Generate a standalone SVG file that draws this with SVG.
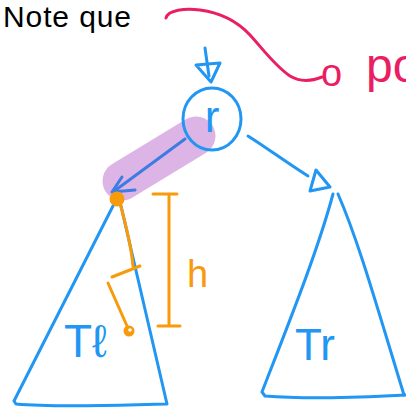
<svg xmlns="http://www.w3.org/2000/svg" width="406" height="408" viewBox="0 0 406 408">
<style>
.b{fill:none;stroke:#2196f3;stroke-width:3;stroke-linecap:round;stroke-linejoin:round}
.o{fill:none;stroke:#f79a0b;stroke-width:3;stroke-linecap:round;stroke-linejoin:round}
.p{fill:none;stroke:#e91e63;stroke-width:3;stroke-linecap:round;stroke-linejoin:round}
.lb{font-family:"Liberation Sans","DejaVu Sans",sans-serif;fill:#2196f3}
</style>
<rect width="406" height="408" fill="#ffffff"/>
<text x="3" y="27" font-family="Liberation Sans, Arial, sans-serif" font-size="30" fill="#000" textLength="128">Note que</text>
<g id="pink-note">
<path class="p" d="M166,18 C168,10 185,8 200,10 C222,13 238,22 250,35 C262,48 275,66 290,76 C300,82 312,81 322,77"/>
<text font-family="Liberation Sans, sans-serif" fill="#e91e63" x="321" y="86" font-size="38">o<tspan x="366" y="82" font-size="48">po</tspan></text>
</g>
<g id="highlight">
<line x1="122" y1="181" x2="196" y2="136" stroke="#dcb4e6" stroke-width="39" stroke-linecap="round"/>
</g>
<g id="connectors">
<path class="b" d="M205,48 L209,76"/>
<path class="b" d="M196,65 L220,63 L211,82 Z"/>
<path fill="none" stroke="#3d7ce0" stroke-width="3" stroke-linecap="round" stroke-linejoin="round" d="M185,139 L113,192 M122,177 L112,192 L135,190"/>
<path class="b" d="M248,136 C270,150 290,165 308,176"/>
<path class="b" d="M316,170 L310,191 L330,187 Z"/>
</g>
<g id="root">
<ellipse class="b" cx="212" cy="119" rx="29" ry="31"/>
<text class="lb" x="212" y="132" font-size="44" text-anchor="middle">r</text>
</g>
<g id="left-subtree">
<path class="b" d="M114,204 L14,401 L16,404 C60,408 120,405 167,404 L121,206"/>
<text class="lb" x="64" y="357" font-size="46">Tℓ</text>
</g>
<g id="right-subtree">
<path class="b" d="M333,194 C318,250 290,320 262,392 L265,396 C300,399 360,398 406,395"/>
<path class="b" d="M338,194 C358,240 375,300 404,395"/>
<text class="lb" x="295" y="360" font-size="44">Tr</text>
</g>
<g id="height-path">
<path class="o" d="M120,203 C126,225 131,245 133,266"/>
<path class="o" d="M112,277 L140,266"/>
<path class="o" d="M108,283 L127,326"/>
<circle cx="117" cy="199" r="7.5" fill="#f79a0b"/>
<circle cx="129" cy="331" r="5.5" fill="#f79a0b"/>
<circle cx="130" cy="330" r="1.8" fill="#fff"/>
</g>
<g id="height-dim">
<path class="o" d="M153,194 L177,194 M169,194 L169,326 M158,326 L180,326"/>
<text x="187" y="287" font-family="Liberation Sans, sans-serif" font-size="38" fill="#f79a0b">h</text>
</g>
</svg>
